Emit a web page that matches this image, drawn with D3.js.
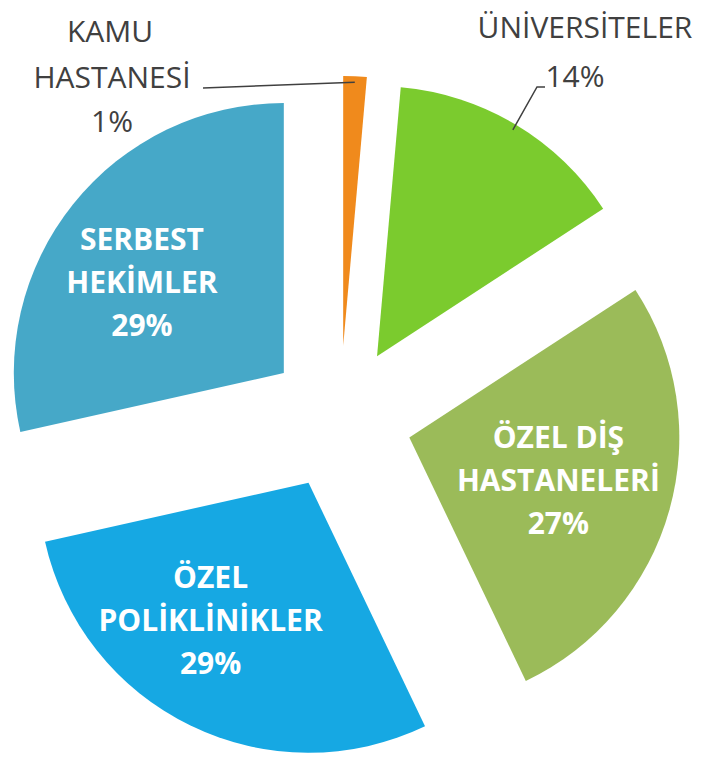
<!DOCTYPE html>
<html>
<head>
<meta charset="utf-8">
<script src="https://cdn.jsdelivr.net/npm/d3@7/dist/d3.min.js"></script>
<style>
  html, body { margin: 0; padding: 0; background: #fff; }
  svg { display: block; }
  text { font-family: "Open Sans", "DejaVu Sans", sans-serif; }
</style>
</head>
<body>
<svg id="chart" width="709" height="758"></svg>
<script>
// slice data, clockwise from 12 o'clock
var categories = ["KAMU HASTANESİ", "ÜNİVERSİTELER", "ÖZEL DİŞ HASTANELERİ", "ÖZEL POLİKLİNİKLER", "SERBEST HEKİMLER"];
var shares = [1.4, 14.4, 27.1, 28.6, 28.5];
var colors = ["#F08A1C", "#7BCB2E", "#9BBB59", "#16A8E3", "#46A8C8"];
// label lines per slice (inside labels are white, outside ones grey)
var labelLines = [["KAMU", "HASTANESİ"], ["ÜNİVERSİTELER"], ["ÖZEL DİŞ", "HASTANELERİ"], ["ÖZEL", "POLİKLİNİKLER"], ["SERBEST", "HEKİMLER"]];
var insideLabel = [false, false, true, true, true];
// small hand nudges of the inside labels, like the original layout
var labelNudge = [[0, 0], [0, 0], [-5, 0], [-28, -6], [-17, 10]];

var svg = d3.select("#chart");
var cx = 340, cy = 418, radius = 270, explode = 72;

var slices = d3.pie().sort(null).value(function (d) { return d; })(shares);
var arc = d3.arc().innerRadius(0).outerRadius(radius);

// offset of an exploded slice along its middle angle
var offset = function (s, dist) {
  var mid = (s.startAngle + s.endAngle) / 2;
  return [Math.sin(mid) * dist, -Math.cos(mid) * dist];
};

var g = svg.append("g").attr("transform", "translate(" + cx + "," + cy + ")");

g.selectAll("path.slice")
  .data(slices)
  .enter().append("path")
  .attr("class", "slice")
  .attr("fill", function (s, i) { return colors[i]; })
  .attr("transform", function (s) {
    var o = offset(s, explode);
    return "translate(" + o[0] + "," + o[1] + ")";
  })
  .attr("d", arc);

// white labels inside the big slices
var lineHeight = 43;
slices.forEach(function (s, i) {
  if (!insideLabel[i]) return;
  var p = offset(s, explode + 160);
  p = [p[0] + labelNudge[i][0], p[1] + labelNudge[i][1]];
  var lines = labelLines[i].concat([Math.round(shares[i]) + "%"]);
  var t = g.append("text")
    .attr("text-anchor", "middle")
    .attr("fill", "#fff")
    .attr("font-weight", "bold")
    .attr("font-size", 30);
  lines.forEach(function (ln, k) {
    t.append("tspan")
      .attr("x", p[0])
      .attr("y", p[1] + (k - (lines.length - 1) / 2) * lineHeight + 10)
      .text(ln);
  });
});

// outside labels with leader lines, placed in page coordinates
var outside = [
  { idx: 0, x: [110, 112, 112], y: [42, 88, 132], lineFrom: [203, 88] },
  { idx: 1, x: [585, 575], y: [38, 87], lineFrom: [545, 87] }
];

outside.forEach(function (o) {
  var s = slices[o.idx];
  var lines = labelLines[o.idx].concat([Math.round(shares[o.idx]) + "%"]);
  var t = svg.append("text")
    .attr("text-anchor", "middle")
    .attr("fill", "#404040")
    .attr("font-size", 30);
  lines.forEach(function (ln, k) {
    t.append("tspan").attr("x", o.x[k]).attr("y", o.y[k]).text(ln);
  });
  // end point on the slice's outer edge
  var o2 = offset(s, explode + radius - 6);
  var end = [cx + o2[0], cy + o2[1]];
  var pts = o.idx === 1
    ? [[o.lineFrom[0], o.lineFrom[1]], [o.lineFrom[0] - 8, o.lineFrom[1]], end]
    : [o.lineFrom, end];
  svg.append("path")
    .attr("d", d3.line()(pts))
    .attr("fill", "none")
    .attr("stroke", "#404040")
    .attr("stroke-width", 1.5);
});
</script>
</body>
</html>
